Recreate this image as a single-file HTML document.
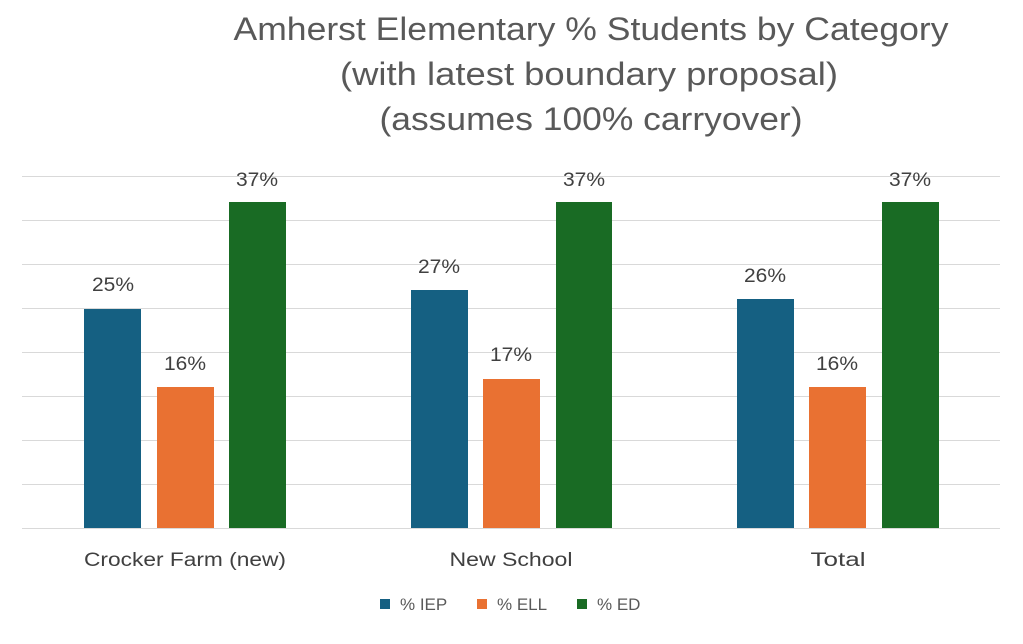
<!DOCTYPE html>
<html><head><meta charset="utf-8"><style>html,body{margin:0;padding:0;background:#fff}</style></head>
<body>
<svg width="1023" height="639" xmlns="http://www.w3.org/2000/svg" font-family="Liberation Sans, sans-serif">
<rect width="1023" height="639" fill="#fff"/>
<g fill="#595959" font-size="32" text-anchor="middle">
<text x="591" y="40" textLength="715" lengthAdjust="spacingAndGlyphs">Amherst Elementary % Students by Category</text>
<text x="589" y="85" textLength="498" lengthAdjust="spacingAndGlyphs">(with latest boundary proposal)</text>
<text x="591" y="130" textLength="423" lengthAdjust="spacingAndGlyphs">(assumes 100% carryover)</text>
</g>
<g stroke="#d9d9d9" stroke-width="1">
<line x1="22" x2="1000" y1="176.5" y2="176.5"/><line x1="22" x2="1000" y1="220.5" y2="220.5"/>
<line x1="22" x2="1000" y1="264.5" y2="264.5"/><line x1="22" x2="1000" y1="308.5" y2="308.5"/>
<line x1="22" x2="1000" y1="352.5" y2="352.5"/><line x1="22" x2="1000" y1="396.5" y2="396.5"/>
<line x1="22" x2="1000" y1="440.5" y2="440.5"/><line x1="22" x2="1000" y1="484.5" y2="484.5"/>
<line x1="22" x2="1000" y1="528.5" y2="528.5"/>
</g>
<g>
<rect x="84" y="309" width="57" height="219" fill="#156082"/>
<rect x="157" y="387" width="57" height="141" fill="#e97132"/>
<rect x="229" y="202" width="57" height="326" fill="#196b24"/>
<rect x="411" y="290" width="57" height="238" fill="#156082"/>
<rect x="483" y="379" width="57" height="149" fill="#e97132"/>
<rect x="556" y="202" width="56" height="326" fill="#196b24"/>
<rect x="737" y="299" width="57" height="229" fill="#156082"/>
<rect x="809" y="387" width="57" height="141" fill="#e97132"/>
<rect x="882" y="202" width="57" height="326" fill="#196b24"/>
</g>
<g fill="#404040" font-size="19" text-anchor="middle">
<text x="113" y="291" textLength="42" lengthAdjust="spacingAndGlyphs">25%</text>
<text x="185" y="370" textLength="42" lengthAdjust="spacingAndGlyphs">16%</text>
<text x="257" y="186" textLength="42" lengthAdjust="spacingAndGlyphs">37%</text>
<text x="439" y="273" textLength="42" lengthAdjust="spacingAndGlyphs">27%</text>
<text x="511" y="361" textLength="42" lengthAdjust="spacingAndGlyphs">17%</text>
<text x="584" y="186" textLength="42" lengthAdjust="spacingAndGlyphs">37%</text>
<text x="765" y="282" textLength="42" lengthAdjust="spacingAndGlyphs">26%</text>
<text x="837" y="370" textLength="42" lengthAdjust="spacingAndGlyphs">16%</text>
<text x="910" y="186" textLength="42" lengthAdjust="spacingAndGlyphs">37%</text>
<text x="185" y="566" textLength="202" lengthAdjust="spacingAndGlyphs">Crocker Farm (new)</text>
<text x="511" y="566" textLength="123" lengthAdjust="spacingAndGlyphs">New School</text>
<text x="838" y="566" textLength="55" lengthAdjust="spacingAndGlyphs">Total</text>
</g>
<g font-size="17" fill="#595959">
<rect x="380" y="599" width="10" height="10" fill="#156082"/><text x="400" y="610">% IEP</text>
<rect x="477" y="599" width="10" height="10" fill="#e97132"/><text x="497" y="610">% ELL</text>
<rect x="577" y="599" width="10" height="10" fill="#196b24"/><text x="597" y="610">% ED</text>
</g>
</svg>
</body></html>
